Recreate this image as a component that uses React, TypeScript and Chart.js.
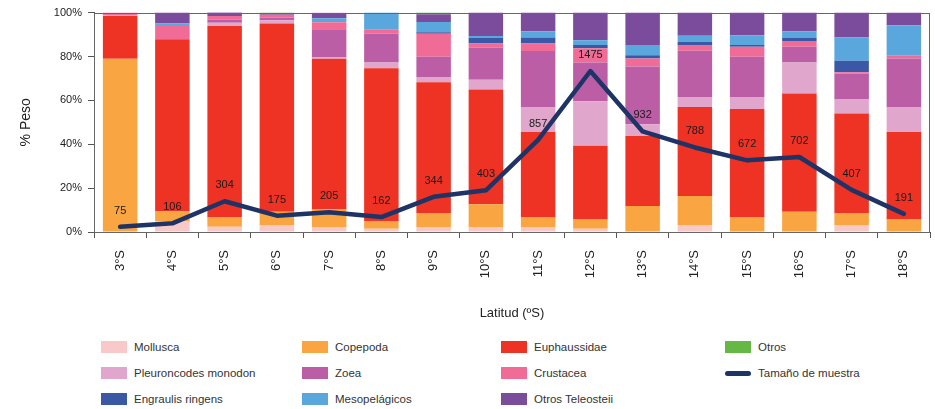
import React, { useEffect, useRef } from 'react';
import { Chart, registerables } from 'chart.js';

Chart.register(...registerables);

const FONT = '"Liberation Sans", Arial, Helvetica, sans-serif';

// Categories (latitude)
const categories = ['3°S', '4°S', '5°S', '6°S', '7°S', '8°S', '9°S', '10°S', '11°S', '12°S', '13°S', '14°S', '15°S', '16°S', '17°S', '18°S'];

// % weight per prey group (stack order bottom → top)
const mollusca = [0, 5, 2.4, 3.2, 2.3, 1.5, 2.3, 2.3, 2.3, 1.5, 0, 3.2, 0, 0, 3.2, 0];
const copepoda = [79, 4.5, 4.2, 6, 8, 3.5, 6.1, 10.3, 4.3, 4.2, 11.9, 13.2, 6.6, 9.2, 5.2, 5.7];
const euphausiidae = [19.4, 78.3, 87.3, 85.8, 68.7, 69.6, 59.9, 52.3, 39, 33.6, 31.9, 40.6, 49.5, 53.9, 45.6, 39.9];
const pleuroncodes = [0.4, 0, 1.5, 1.5, 0.5, 2.6, 2.1, 4.5, 11.4, 20.3, 5.3, 4.5, 5.4, 14.1, 6.6, 11.4];
const zoea = [0, 0, 1.5, 1.2, 12.6, 13.2, 9.5, 14.7, 25.5, 17.6, 26.3, 21.1, 18.4, 7.2, 11.5, 22.1];
const crustacea = [1.2, 6.5, 1.5, 1.3, 3.5, 1.8, 10.5, 1.8, 3.4, 6.5, 3.7, 2.6, 4.5, 2.6, 0.7, 1.5];
const engraulis = [0, 0, 0, 0, 0, 0, 0.7, 2.5, 2.7, 1.5, 1.5, 1.5, 0.8, 1.4, 5.3, 0];
const mesopelagicos = [0, 0.7, 0, 0, 1.8, 7.8, 4.6, 0.9, 2.9, 2.2, 4.6, 2.7, 4.5, 3.1, 10.5, 13.6];
const otrosTeleosteii = [0, 5, 1.8, 0.7, 2.5, 0, 3.5, 10.7, 8.5, 12.6, 14.8, 10.6, 10.3, 8.5, 11.4, 5.8];
const otros = [0, 0, 0, 0.3, 0, 0, 0.8, 0, 0, 0, 0, 0, 0, 0, 0, 0];

// Sample size
const sampleSize = [75, 106, 304, 175, 205, 162, 344, 403, 857, 1475, 932, 788, 672, 702, 407, 191];

const yTicks = [0, 20, 40, 60, 80, 100];

const barSeries = [
  { name: 'Mollusca', color: '#f9c9c9', data: mollusca },
  { name: 'Copepoda', color: '#f9a541', data: copepoda },
  { name: 'Euphaussidae', color: '#ee3224', data: euphausiidae },
  { name: 'Pleuroncodes monodon', color: '#e0a6cc', data: pleuroncodes },
  { name: 'Zoea', color: '#bb5ea6', data: zoea },
  { name: 'Crustacea', color: '#f06b96', data: crustacea },
  { name: 'Engraulis ringens', color: '#3a58a6', data: engraulis },
  { name: 'Mesopelágicos', color: '#59a7dc', data: mesopelagicos },
  { name: 'Otros Teleosteii', color: '#7c4c9c', data: otrosTeleosteii },
  { name: 'Otros', color: '#65b844', data: otros },
];
const lineName = 'Tamaño de muestra';
const lineColor = '#1e3366';

const legendOrder = [
  ['Mollusca', 'Copepoda', 'Euphaussidae', 'Otros'],
  ['Pleuroncodes monodon', 'Zoea', 'Crustacea', lineName],
  ['Engraulis ringens', 'Mesopelágicos', 'Otros Teleosteii'],
];
const colLefts = [101, 302, 501, 725];
const rowCenters = [347, 373, 399];

export default function App() {
  const ref = useRef<HTMLCanvasElement>(null);

  useEffect(() => {
    if (!ref.current) return;
    const framePlugin = {
      id: 'frame',
      afterDraw(chart: any) {
        const { ctx, chartArea: a } = chart;
        ctx.save();
        ctx.strokeStyle = '#666';
        ctx.lineWidth = 1;
        ctx.strokeRect(Math.round(a.left) + 0.5, Math.round(a.top) + 0.5, Math.round(a.right - a.left) - 1, Math.round(a.bottom - a.top));
        ctx.restore();
      },
    };
    const labelPlugin = {
      id: 'sampleLabels',
      afterDatasetsDraw(chart: any) {
        const idx = chart.data.datasets.length - 1;
        const meta = chart.getDatasetMeta(idx);
        const ctx = chart.ctx;
        ctx.save();
        ctx.font = `11px ${FONT}`;
        ctx.fillStyle = '#1a1a1a';
        ctx.textAlign = 'center';
        ctx.textBaseline = 'middle';
        meta.data.forEach((pt: any, i: number) => {
          ctx.fillText(String(sampleSize[i]), pt.x, pt.y - 16);
        });
        ctx.restore();
      },
    };

    const chart = new Chart(ref.current, {
      type: 'bar',
      data: {
        labels: categories,
        datasets: [
          ...barSeries.map((s) => ({
            type: 'bar' as const,
            label: s.name,
            data: s.data,
            backgroundColor: s.color,
            borderWidth: 0,
            barPercentage: 0.66,
            categoryPercentage: 1,
            yAxisID: 'y',
            order: 1,
          })),
          {
            type: 'line' as const,
            label: lineName,
            data: sampleSize,
            borderColor: lineColor,
            backgroundColor: lineColor,
            borderWidth: 4.5,
            pointRadius: 0,
            tension: 0,
            borderCapStyle: 'round',
            borderJoinStyle: 'round',
            yAxisID: 'y1',
            order: 0,
          } as any,
        ],
      },
      options: {
        responsive: false,
        animation: false,
        layout: { padding: { top: 9, right: 5, left: 0, bottom: 0 } },
        plugins: { legend: { display: false }, tooltip: { enabled: false } },
        scales: {
          x: {
            stacked: true,
            grid: { offset: true, drawOnChartArea: false, drawTicks: true, tickLength: 6, color: '#555' },
            border: { display: true, color: '#555' },
            ticks: { minRotation: 90, maxRotation: 90, autoSkip: false, padding: 12, color: '#222', font: { family: FONT, size: 13 } },
            title: { display: true, text: 'Latitud (ºS)', color: '#222', font: { family: FONT, size: 13 }, padding: { top: 0, bottom: 9 } },
            afterFit: (s: any) => { s.height = 98; },
          },
          y: {
            stacked: true,
            min: 0,
            max: 100,
            afterBuildTicks: (s: any) => { s.ticks = yTicks.map((v) => ({ value: v })); },
            ticks: { color: '#222', padding: 6, font: { family: FONT, size: 11 }, callback: (v: any) => `${v}%` },
            grid: { drawOnChartArea: false, tickLength: 6, color: '#555' },
            border: { display: true, color: '#555' },
            title: { display: true, text: '% Peso', color: '#222', font: { family: FONT, size: 14 }, padding: { top: 18, bottom: 0 } },
            afterFit: (s: any) => { s.width = 94; },
          },
          y1: { display: false, min: 28, max: 2000 },
        },
      },
      plugins: [framePlugin, labelPlugin],
    } as any);
    return () => chart.destroy();
  }, []);

  const colorOf = (name: string) => barSeries.find((s) => s.name === name)?.color;

  return (
    <div style={{ position: 'absolute', left: 0, top: 0, width: 935, height: 409, background: '#fff', fontFamily: FONT }}>
      <canvas ref={ref} width={935} height={330} style={{ position: 'absolute', left: 0, top: 0, width: 935, height: 330 }} />
      {legendOrder.map((row, r) =>
        row.map((name, c) => (
          <div key={name} style={{ position: 'absolute', left: colLefts[c], top: rowCenters[r] - 8, height: 16, display: 'flex', alignItems: 'center', fontSize: 11.5, color: '#333', whiteSpace: 'nowrap' }}>
            {name === lineName ? (
              <span style={{ display: 'inline-block', width: 26, height: 5, borderRadius: 3, background: lineColor, marginRight: 7 }} />
            ) : (
              <span style={{ display: 'inline-block', width: 26, height: 12, background: colorOf(name), marginRight: 7 }} />
            )}
            <span>{name}</span>
          </div>
        ))
      )}
    </div>
  );
}
